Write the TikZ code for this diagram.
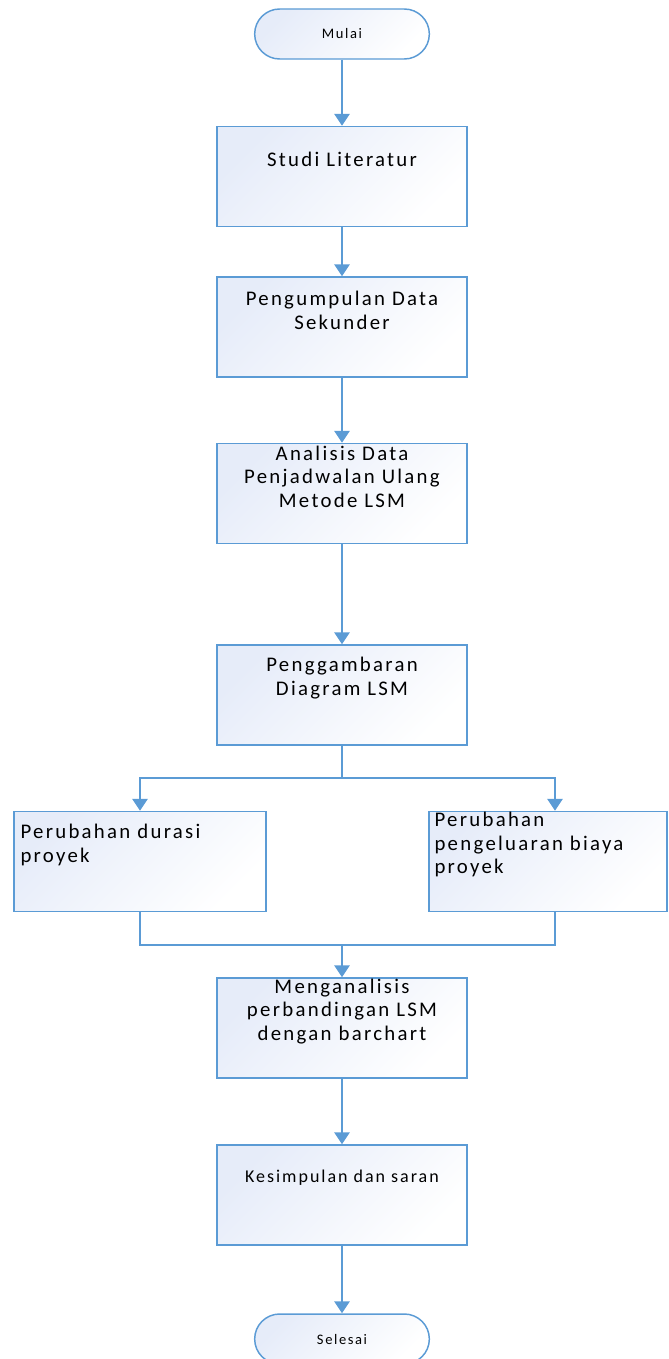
\documentclass[tikz,border=0pt]{standalone}
\usepackage{fontspec}
\setmainfont{Carlito}[LetterSpace=11]
\usetikzlibrary{arrows.meta,calc}

\definecolor{flowblue}{RGB}{91,155,213}
\definecolor{boxtint}{RGB}{230,236,249}

\begin{document}
\begin{tikzpicture}[x=0.75pt,y=-0.75pt,
  box/.style={draw=flowblue,line width=1.1pt,top color=boxtint,bottom color=white,
    shading angle=45,minimum width=187.5pt,minimum height=75pt,inner sep=0pt},
  term/.style={box,rounded corners=18.75pt,minimum width=131pt,minimum height=37.5pt,
    font=\fontsize{10.9}{13}\selectfont},
  big/.style={font=\fontsize{15.6}{17.6}\selectfont,align=center,inner sep=0pt},
  mid/.style={font=\fontsize{13.5}{16}\selectfont,align=center,inner sep=0pt},
  flow/.style={draw=flowblue,line width=1.5pt,-{Triangle[width=11.5pt,length=9pt]}},
  link/.style={draw=flowblue,line width=1.5pt}]
  \useasboundingbox (0,0) rectangle (668,1359);

  % kotak-kotak utama
  \node[term] (mulai) at (342,34) {Mulai};
  \node[box] (lit) at (342,176.5) {};
  \node[box] (data) at (342,327) {};
  \node[box] (anls) at (342,493.5) {};
  \node[box] (gbr) at (342,695) {};
  \node[box,minimum width=189pt] (durasi) at (140,861.5) {};
  \node[box,minimum width=178.5pt] (biaya) at (548,861.5) {};
  \node[box] (banding) at (342,1028) {};
  \node[box] (simpul) at (342,1195) {};
  \node[term] (selesai) at (342,1339) {Selesai};

  % teks di bagian atas kotak
  \node[big] (lit-t) at ([yshift=-25.5pt]lit.north) {Studi Literatur};
  \node[big] (data-t) at ([yshift=-25.5pt]data.north) {Pengumpulan Data\\Sekunder};
  \node[big] (anls-t) at ([yshift=-25.5pt]anls.north) {Analisis Data\\Penjadwalan Ulang\\Metode LSM};
  \node[big] (gbr-t) at ([yshift=-25.5pt]gbr.north) {Penggambaran\\Diagram LSM};
  \node[big,anchor=west,align=left] (durasi-t) at ([xshift=5.25pt,yshift=-25.5pt]durasi.north west)
        {Perubahan durasi\\proyek};
  \node[big,anchor=west,align=left] (biaya-t) at ([xshift=4.5pt,yshift=-25.5pt]biaya.north west)
        {Perubahan\\pengeluaran biaya\\proyek};
  \node[big] (banding-t) at ([yshift=-25.5pt]banding.north) {Menganalisis\\perbandingan LSM\\dengan barchart};
  \node[mid] (simpul-t) at ([yshift=-24.75pt]simpul.north) {Kesimpulan dan saran};

  % alur
  \draw[flow] (mulai) -- (lit);
  \draw[flow] (lit) -- (data);
  \draw[flow] (data) -- (anls);
  \draw[flow] (anls) -- (gbr);

  \coordinate (split) at (342,778);
  \coordinate (merge) at (342,945);
  \draw[link] (gbr.south) -- (split);
  \draw[flow] (split) -| (durasi.north);
  \draw[flow] (split) -| ([xshift=5.25pt]biaya.north);
  \draw[link] (durasi.south) |- (merge) -| ([xshift=5.25pt]biaya.south);
  \draw[flow] (merge) -- (banding.north);

  \draw[flow] (banding) -- (simpul);
  \draw[flow] (simpul) -- (selesai);
\end{tikzpicture}
\end{document}
